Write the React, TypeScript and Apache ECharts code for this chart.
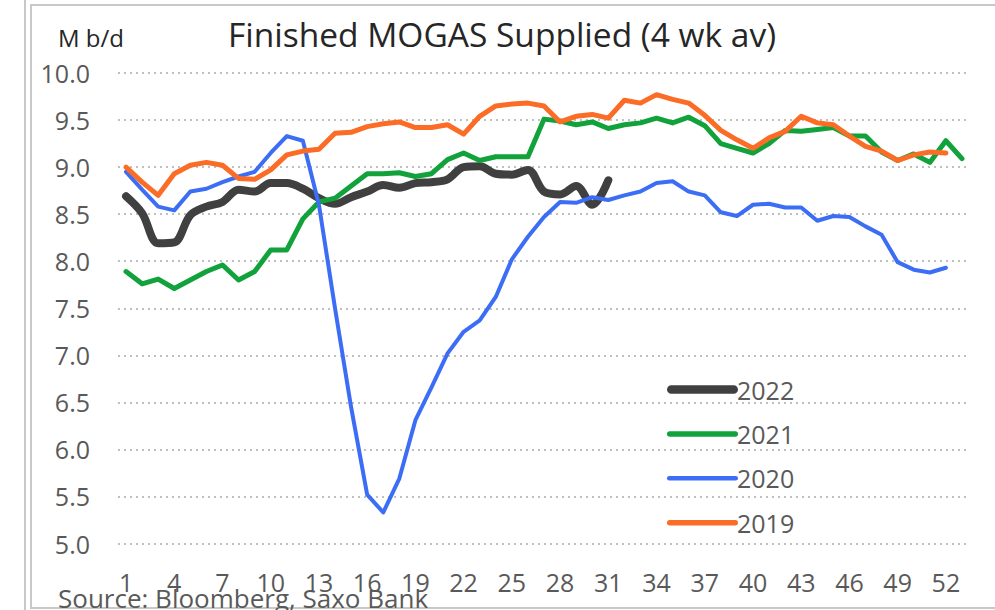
import React, { useEffect, useRef } from "react";
import * as echarts from "echarts";

const weeks: string[] = Array.from({ length: 53 }, (_, i) => String(i + 1));

const s2022: (number | null)[] = [8.69, 8.51, 8.19, 8.2, 8.49, 8.58, 8.63, 8.76, 8.74, 8.83, 8.83, 8.77, 8.67, 8.61, 8.68, 8.74, 8.81, 8.78, 8.83, 8.84, 8.87, 9.0, 9.01, 8.93, 8.92, 8.97, 8.74, 8.71, 8.8, 8.6, 8.86];
const s2021: (number | null)[] = [7.89, 7.76, 7.81, 7.71, 7.8, 7.89, 7.96, 7.8, 7.89, 8.12, 8.12, 8.45, 8.63, 8.67, 8.8, 8.93, 8.93, 8.94, 8.9, 8.93, 9.08, 9.15, 9.07, 9.11, 9.11, 9.11, 9.51, 9.49, 9.45, 9.48, 9.41, 9.45, 9.47, 9.52, 9.47, 9.53, 9.44, 9.25, 9.2, 9.15, 9.25, 9.39, 9.38, 9.4, 9.42, 9.33, 9.33, 9.16, 9.07, 9.14, 9.05, 9.28, 9.09];
const s2020: (number | null)[] = [8.95, 8.76, 8.58, 8.54, 8.74, 8.77, 8.84, 8.9, 8.95, 9.15, 9.33, 9.28, 8.6, 7.5, 6.45, 5.52, 5.33, 5.69, 6.31, 6.66, 7.02, 7.25, 7.37, 7.62, 8.02, 8.26, 8.47, 8.63, 8.62, 8.68, 8.65, 8.7, 8.74, 8.83, 8.85, 8.74, 8.7, 8.52, 8.48, 8.6, 8.61, 8.57, 8.57, 8.43, 8.48, 8.47, 8.37, 8.28, 7.99, 7.91, 7.88, 7.93];
const s2019: (number | null)[] = [9.0, 8.84, 8.7, 8.93, 9.02, 9.05, 9.02, 8.88, 8.87, 8.97, 9.13, 9.17, 9.19, 9.36, 9.37, 9.43, 9.46, 9.48, 9.42, 9.42, 9.45, 9.35, 9.54, 9.65, 9.67, 9.68, 9.65, 9.48, 9.54, 9.56, 9.52, 9.71, 9.68, 9.77, 9.72, 9.68, 9.55, 9.39, 9.29, 9.2, 9.31, 9.38, 9.54, 9.47, 9.45, 9.33, 9.22, 9.17, 9.07, 9.13, 9.16, 9.15];

const FONT = "'Open Sans', 'Noto Sans', sans-serif";
const LABEL = "#595959";

// legend icon: a rounded bar of given thickness inside a 71x14 box
const barIcon = (t: number) => {
  const r = t / 2;
  const y0 = 7 - r;
  const y1 = 7 + r;
  return `path://M0,0M71,14M${r},${y0}H${71 - r}A${r},${r},0,0,1,${71 - r},${y1}H${r}A${r},${r},0,0,1,${r},${y0}Z`;
};

export default function App() {
  const ref = useRef<HTMLDivElement>(null);
  useEffect(() => {
    if (!ref.current) return;
    const chart = echarts.init(ref.current, undefined, { renderer: "svg" });
    const mk = (name: string, data: (number | null)[], color: string, width: number, smooth: number | boolean) => ({
      name,
      type: "line",
      data,
      symbol: "none",
      smooth,
      connectNulls: false,
      lineStyle: { color, width, cap: "round", join: "round" },
      itemStyle: { color },
    });
    chart.setOption({
      animation: false,
      backgroundColor: "#ffffff",
      textStyle: { fontFamily: FONT },
      title: {
        text: "Finished MOGAS Supplied (4 wk av)",
        left: 497,
        textAlign: "center",
        top: 12,
        textStyle: { fontFamily: FONT, fontSize: 33.5, fontWeight: "normal", color: "#262626" },
      },
      legend: {
        orient: "vertical",
        left: 662,
        top: 372,
        itemWidth: 71,
        itemHeight: 14,
        itemGap: 19.4,
        data: [
          { name: "2022", icon: barIcon(8.5) },
          { name: "2021", icon: barIcon(5.5) },
          { name: "2020", icon: barIcon(4.5) },
          { name: "2019", icon: barIcon(5.5) },
        ],
        textStyle: { fontFamily: FONT, fontSize: 25, color: LABEL, lineHeight: 24, padding: [0, 0, 0, -6] },
      },
      grid: { left: 118, right: 25, top: 73, bottom: 66.5, containLabel: false },
      xAxis: {
        type: "category",
        data: weeks,
        boundaryGap: true,
        axisLine: { show: false },
        axisTick: { show: false },
        axisLabel: { interval: 2, fontFamily: FONT, fontSize: 25, color: LABEL, margin: 26 },
      },
      yAxis: {
        type: "value",
        min: 5,
        max: 10,
        interval: 0.5,
        axisLine: { show: false },
        axisTick: { show: false },
        axisLabel: {
          fontFamily: FONT,
          fontSize: 25,
          color: LABEL,
          margin: 28,
          formatter: (v: number) => v.toFixed(1),
        },
        splitLine: { lineStyle: { color: "#bfbfbf", width: 2, type: [2, 4] } },
      },
      graphic: [
        { type: "line", shape: { x1: 25, y1: 0, x2: 25, y2: 610 }, style: { stroke: "#c8c8c8", lineWidth: 2 } },
        { type: "rect", shape: { x: 31, y: 5, width: 980, height: 603 }, style: { fill: "none", stroke: "#c8c8c8", lineWidth: 2 } },
        { type: "text", left: 58, top: 25, style: { text: "M b/d", fontFamily: FONT, fontSize: 24, fill: "#262626" } },
        { type: "text", left: 58, top: 585, style: { text: "Source: Bloomberg, Saxo Bank", fontFamily: FONT, fontSize: 26, fill: LABEL } },
      ],
      series: [
        mk("2022", s2022, "#404040", 8, 0.35),
        mk("2021", s2021, "#11a23b", 5, false),
        mk("2020", s2020, "#3c6df5", 4, false),
        mk("2019", s2019, "#fb6c27", 5, false),
      ],
    });
    return () => chart.dispose();
  }, []);
  return <div ref={ref} style={{ position: "fixed", left: 0, top: 0, width: 995, height: 610 }} />;
}
